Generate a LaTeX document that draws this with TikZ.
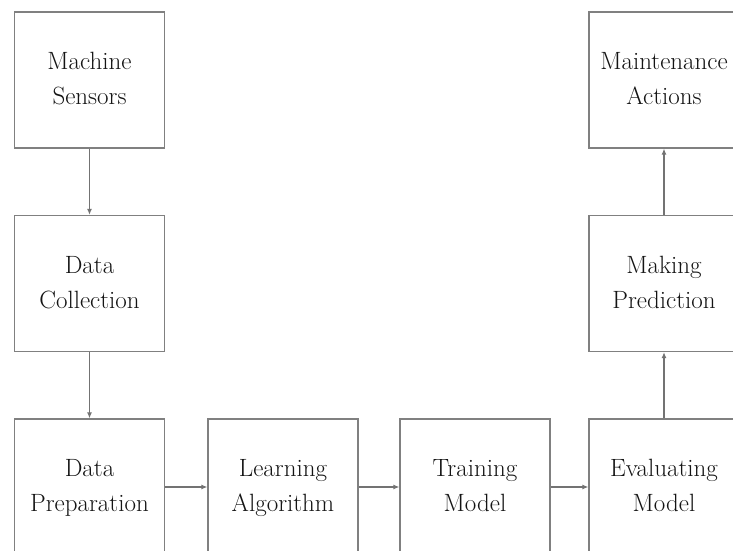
\documentclass[tikz,border=0pt]{standalone}
\usetikzlibrary{arrows.meta}
\begin{document}
\begin{tikzpicture}[x=1pt,y=-1pt,
  box/.style={draw=black!50,line width=1.3pt,minimum width=150pt,minimum height=136pt,
    align=center,inner sep=0pt,font=\fontsize{25}{35}\selectfont,text=black!92},
  conn/.style={draw=black!55,line width=1.1pt,-{Latex[length=6pt,width=5pt]}}]
\useasboundingbox (0,0) rectangle (733,551);
\clip (0,0) rectangle (733,551);
\node[box] (ms) at (89.5,80) {\strut Machine\\\strut Sensors};
\node[box] (dc) at (89.5,283.5) {\strut Data\\\strut Collection};
\node[box] (dp) at (89.5,487) {\strut Data\\\strut Preparation};
\node[box] (la) at (283,487) {\strut Learning\\\strut Algorithm};
\node[box] (tm) at (475,487) {\strut Training\\\strut Model};
\node[box] (em) at (664,487) {\strut Evaluating\\\strut Model};
\node[box] (mp) at (664,283.5) {\strut Making\\\strut Prediction};
\node[box] (ma) at (664,80) {\strut Maintenance\\\strut Actions};
\draw[conn] (ms) -- (dc);
\draw[conn] (dc) -- (dp);
\draw[conn] (dp) -- (la);
\draw[conn] (la) -- (tm);
\draw[conn] (tm) -- (em);
\draw[conn] (em) -- (mp);
\draw[conn] (mp) -- (ma);
\end{tikzpicture}
\end{document}
